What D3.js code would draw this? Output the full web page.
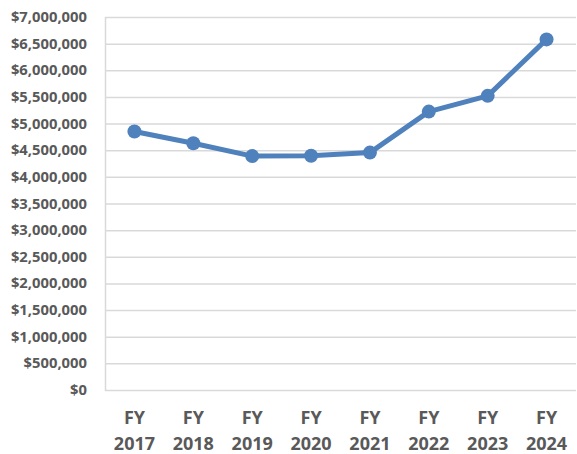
<!DOCTYPE html>
<html>
<head>
<meta charset="utf-8">
<script src="https://cdn.jsdelivr.net/npm/d3@7"></script>
<style>
  html, body { margin: 0; padding: 0; background: #fff; }
  svg { display: block; }
</style>
</head>
<body>
<div id="chart"></div>
<script>
"use strict";

const YEARS  = ["2017", "2018", "2019", "2020", "2021", "2022", "2023", "2024"];
const VALUES = [4850000, 4630000, 4390000, 4395000, 4455000, 5225000, 5520000, 6580000];
const Y_TICKS = [0, 500000, 1000000, 1500000, 2000000, 2500000, 3000000, 3500000,
                 4000000, 4500000, 5000000, 5500000, 6000000, 6500000, 7000000];

const W = 577, H = 454;
const padL = 105, padR = 576, padT = 17, padB = 390;
const FONT = "'Open Sans', 'Noto Sans', sans-serif";
const TEXT = "#595959";
const LINE = "#4F81BD";

const svg = d3.select("#chart").append("svg")
  .attr("width", W).attr("height", H);

const x = d3.scaleBand().domain(YEARS).range([padL, padR]);
const y = d3.scaleLinear().domain([0, 7000000]).range([padB, padT]);

// Gridlines
svg.append("g")
  .selectAll("line")
  .data(Y_TICKS)
  .join("line")
  .attr("x1", padL).attr("x2", padR)
  .attr("y1", (d) => y(d) + 0.5).attr("y2", (d) => y(d) + 0.5)
  .attr("stroke", "#d9d9d9")
  .attr("stroke-width", 1.5);

// Left axis line
svg.append("line")
  .attr("x1", padL + 0.5).attr("x2", padL + 0.5)
  .attr("y1", padT).attr("y2", padB + 1)
  .attr("stroke", "#d9d9d9")
  .attr("stroke-width", 1.5);

// Y tick labels
const fmt = d3.format("$,");
svg.append("g")
  .selectAll("text")
  .data(Y_TICKS)
  .join("text")
  .attr("x", 87)
  .attr("y", (d) => y(d) + 5)
  .attr("text-anchor", "end")
  .attr("font-family", FONT)
  .attr("font-size", 14.8)
  .attr("font-weight", 700)
  .attr("fill", TEXT)
  .text((d) => fmt(d));

// X labels
const xl = svg.append("g")
  .selectAll("text")
  .data(YEARS)
  .join("text")
  .attr("text-anchor", "middle")
  .attr("font-family", FONT)
  .attr("font-size", 18)
  .attr("font-weight", 700)
  .attr("fill", TEXT);
xl.append("tspan")
  .attr("x", (d) => x(d) + x.bandwidth() / 2)
  .attr("y", 424)
  .text("FY");
xl.append("tspan")
  .attr("x", (d) => x(d) + x.bandwidth() / 2)
  .attr("y", 450)
  .text((d) => d);

// Line
const pts = YEARS.map((yr, i) => [x(yr) + x.bandwidth() / 2, y(VALUES[i])]);
svg.append("path")
  .attr("d", d3.line()(pts))
  .attr("fill", "none")
  .attr("stroke", LINE)
  .attr("stroke-width", 5)
  .attr("stroke-linejoin", "round")
  .attr("stroke-linecap", "round");

svg.append("g")
  .selectAll("circle")
  .data(pts)
  .join("circle")
  .attr("cx", (d) => d[0])
  .attr("cy", (d) => d[1])
  .attr("r", 7)
  .attr("fill", LINE);
</script>
</body>
</html>
